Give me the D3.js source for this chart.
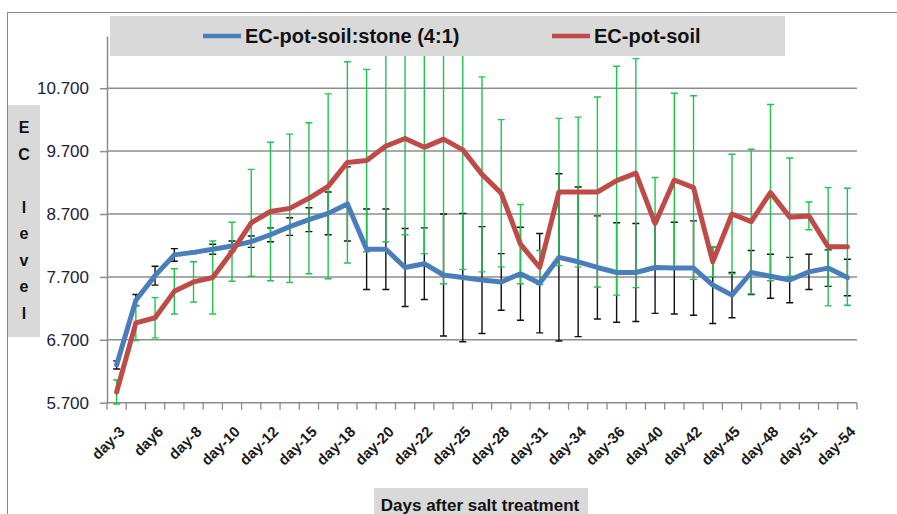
<!DOCTYPE html>
<html><head><meta charset="utf-8">
<script src="https://cdn.jsdelivr.net/npm/d3@7"></script>
<style>
html,body{margin:0;padding:0;background:#fff;overflow:hidden}
svg{display:block}
</style></head>
<body><svg id="c" width="897" height="514"></svg>
<script>
const categories = ["day-3","day-5","day6","day-7","day-8","day-9","day-10","day-11","day-12","day-14","day-15","day-17","day-18","day-19","day-20","day-21","day-22","day-24","day-25","day-27","day-28","day-29","day-31","day-33","day-34","day-35","day-36","day-38","day-40","day-41","day-42","day-44","day-45","day-47","day-48","day-50","day-51","day-53","day-54"];
const seriesNames = ["EC-pot-soil:stone (4:1)", "EC-pot-soil"];
const stoneValues = [6.30,7.33,7.72,8.05,8.09,8.14,8.19,8.26,8.37,8.50,8.61,8.71,8.86,8.14,8.14,7.85,7.91,7.73,7.69,7.65,7.62,7.75,7.60,8.01,7.94,7.85,7.77,7.77,7.85,7.84,7.84,7.57,7.41,7.77,7.71,7.65,7.78,7.84,7.69];
const stoneErr = [0.065,0.09,0.15,0.10,0.02,0.08,0.08,0.09,0.11,0.14,0.19,0.34,0.59,0.64,0.64,0.62,0.57,0.97,1.02,0.85,0.45,0.74,0.79,1.33,1.19,0.82,0.79,0.78,0.73,0.73,0.75,0.61,0.36,0.35,0.35,0.36,0.28,0.29,0.29];
const soilValues = [5.87,6.97,7.05,7.47,7.62,7.69,8.10,8.56,8.74,8.79,8.95,9.14,9.52,9.55,9.78,9.90,9.76,9.89,9.72,9.33,9.03,8.22,7.85,9.05,9.05,9.05,9.23,9.35,8.55,9.24,9.12,7.94,8.70,8.58,9.04,8.65,8.67,8.18,8.18];
const soilErr = [0.19,0.28,0.32,0.36,0.32,0.58,0.47,0.85,1.10,1.18,1.20,1.47,1.60,1.45,1.52,1.53,1.69,2.30,1.90,1.55,1.17,0.63,0.27,1.17,1.19,1.51,1.82,1.82,0.73,1.38,1.46,0.24,0.95,1.15,1.40,0.94,0.22,0.94,0.93];
const yTicks = [5.7,6.7,7.7,8.7,9.7,10.7];
const xTitle = "Days after salt treatment";
const yTitle = "EC level";

const svg = d3.select("#c");
const L = 107, R = 857, T = 36, B = 402.7;
const x = d3.scaleBand().domain(categories).range([L, R]).padding(0);
const cx = d => x(d) + x.bandwidth()/2;
const y = d3.scaleLinear().domain([5.7, 11.53]).range([B, T]);
const FONT = "'Liberation Sans',Arial,sans-serif";

// outer chart border
svg.append("rect").attr("x",7.5).attr("y",12.5).attr("width",1000).attr("height",1000)
  .attr("fill","#fff").attr("stroke","#8a8a8a").attr("stroke-width",1);

// gridlines
svg.append("g").selectAll("line").data(yTicks.slice(1)).join("line")
  .attr("x1",L).attr("x2",R).attr("y1",d=>y(d)).attr("y2",d=>y(d))
  .attr("stroke","#8c8c8c").attr("stroke-width",1.5);

// y axis
const ya = svg.append("g").attr("transform",`translate(${L},0)`)
  .call(d3.axisLeft(y).tickValues(yTicks).tickFormat(d3.format(".3f")).tickSize(7).tickSizeOuter(0).tickPadding(11));
ya.select(".domain").attr("stroke","#8c8c8c").attr("stroke-width",1.5);
ya.selectAll(".tick line").attr("stroke","#8c8c8c").attr("stroke-width",1.5);
ya.selectAll("text").attr("font-family",FONT).attr("font-size","17px").attr("fill","#20203a");

// x axis line + boundary ticks
svg.append("line").attr("x1",L).attr("x2",R).attr("y1",B).attr("y2",B).attr("stroke","#8c8c8c").attr("stroke-width",1.5);
const bounds = categories.map(c=>x(c)).concat([x.range()[1]]);
svg.append("g").selectAll("line").data(bounds).join("line")
  .attr("x1",d=>d).attr("x2",d=>d).attr("y1",B).attr("y2",B+7).attr("stroke","#8c8c8c").attr("stroke-width",1.3);

// x labels
const xa = svg.append("g").attr("transform",`translate(0,${B})`)
  .call(d3.axisBottom(x).tickValues(categories.filter((d,i)=>i%2===0)).tickSize(0));
xa.select(".domain").remove();
xa.selectAll("text")
  .attr("font-family",FONT).attr("font-size","15px").attr("font-weight","bold").attr("fill","#1a1a1a")
  .attr("text-anchor","end").attr("dy",null).attr("y",0)
  .attr("transform","translate(9,30) rotate(-45)");

// error bars
const plot = svg.append("g");
svg.append("clipPath").attr("id","pc").append("rect").attr("x",0).attr("y",T).attr("width",897).attr("height",B-T+20);
function errBars(vals, errs, color){
  const g = plot.append("g").attr("clip-path","url(#pc)").attr("stroke",color).attr("stroke-width",1.4);
  vals.forEach((v,i)=>{
    const xc = cx(categories[i]);
    const hi = y(v+errs[i]), lo = y(v-errs[i]);
    g.append("line").attr("x1",xc).attr("x2",xc).attr("y1",hi).attr("y2",lo);
    g.append("line").attr("x1",xc-3.5).attr("x2",xc+3.5).attr("y1",hi).attr("y2",hi);
    g.append("line").attr("x1",xc-3.5).attr("x2",xc+3.5).attr("y1",lo).attr("y2",lo);
  });
}
errBars(stoneValues, stoneErr, "#111");
errBars(soilValues, soilErr, "#22c24f");

const line = d3.line().x((d,i)=>cx(categories[i])).y(d=>y(d));
plot.append("path").datum(stoneValues).attr("d",line).attr("fill","none").attr("stroke","#4a7ebb").attr("stroke-width",5).attr("stroke-linejoin","round").attr("stroke-linecap","round");
plot.append("path").datum(soilValues).attr("d",line).attr("fill","none").attr("stroke","#be4b48").attr("stroke-width",5).attr("stroke-linejoin","round").attr("stroke-linecap","round");

// legend
const lg = svg.append("g");
lg.append("rect").attr("x",110).attr("y",16).attr("width",675).attr("height",40).attr("fill","#d9d9d9");
const legendItems = [{name:seriesNames[0], color:"#4a7ebb", x0:203, tx:245},{name:seriesNames[1], color:"#be4b48", x0:552, tx:594}];
legendItems.forEach(it=>{
  lg.append("line").attr("x1",it.x0).attr("x2",it.x0+38).attr("y1",36).attr("y2",36).attr("stroke",it.color).attr("stroke-width",4.5);
  lg.append("text").attr("x",it.tx).attr("y",43).text(it.name)
    .attr("font-family",FONT).attr("font-size","20px").attr("font-weight","bold").attr("fill","#111");
});

// x title
svg.append("rect").attr("x",374).attr("y",488).attr("width",214).attr("height",40).attr("fill","#d9d9d9");
svg.append("text").attr("x",480).attr("y",511).attr("text-anchor","middle").text(xTitle)
  .attr("font-family",FONT).attr("font-size","17px").attr("font-weight","bold").attr("fill","#111");

// y title (stacked)
svg.append("rect").attr("x",8).attr("y",105).attr("width",32).attr("height",232).attr("fill","#d9d9d9");
const yt = svg.append("text").attr("font-family",FONT).attr("font-size","16px").attr("font-weight","bold").attr("fill","#111").attr("text-anchor","middle");
yTitle.split("").forEach((ch,i)=>{
  yt.append("tspan").attr("x",24).attr("y",133+i*26.5).text(ch);
});
</script></body></html>
